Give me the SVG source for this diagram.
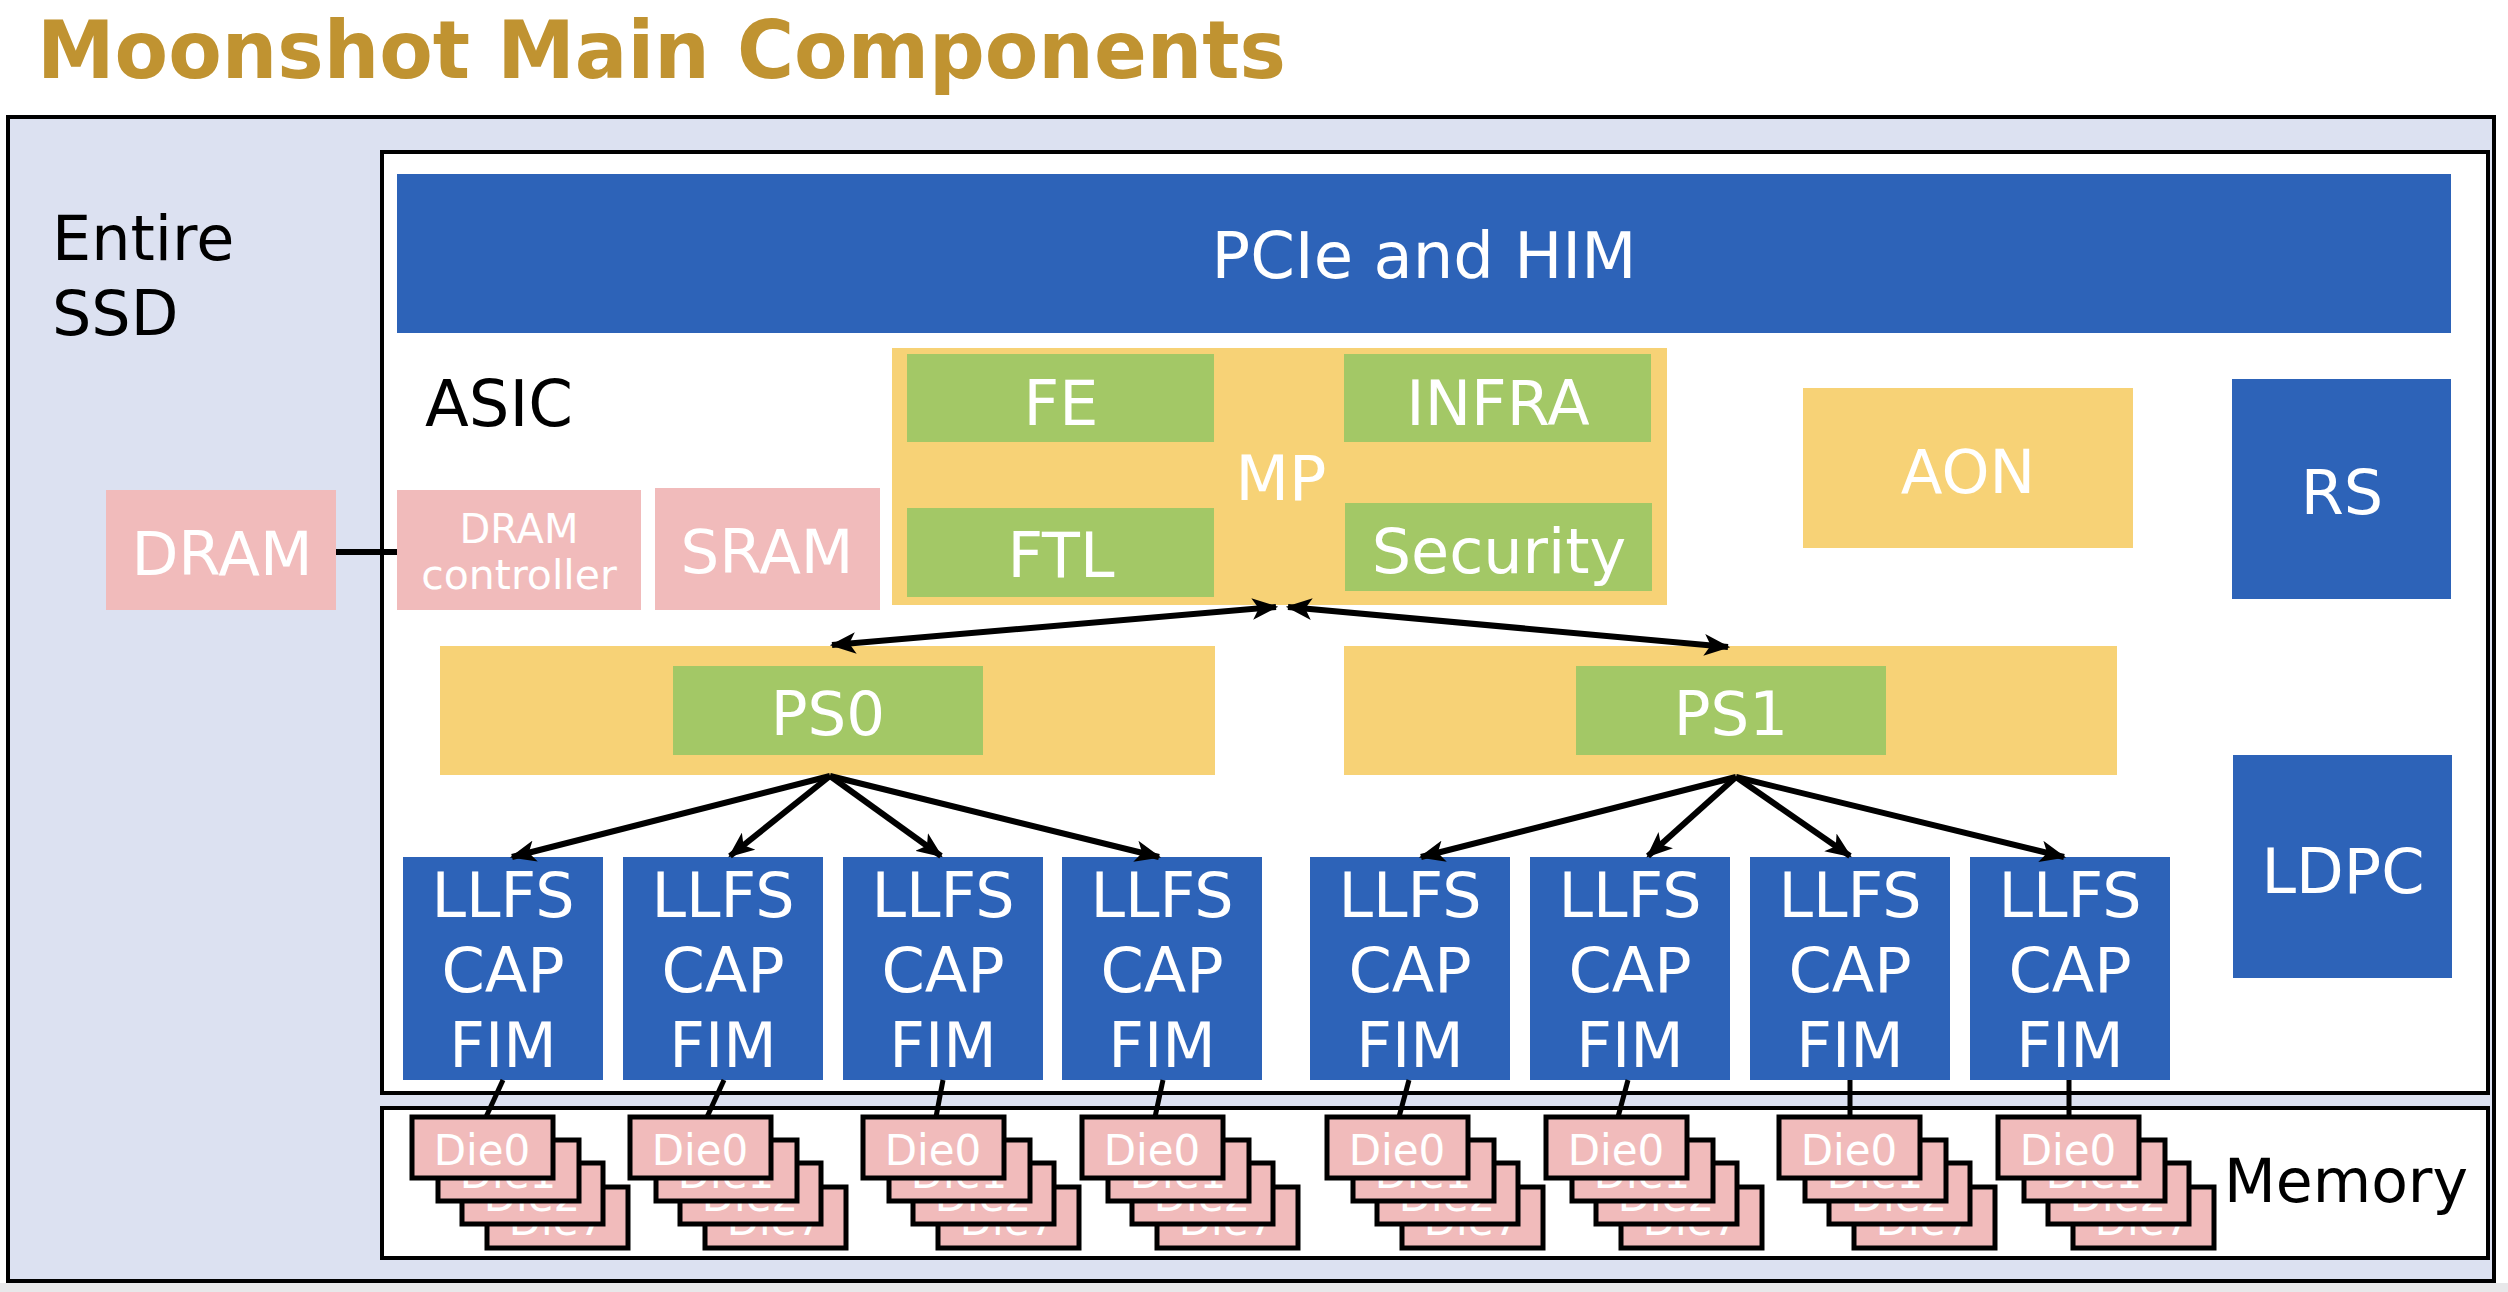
<svg xmlns="http://www.w3.org/2000/svg" width="2508" height="1292" viewBox="0 0 2508 1292">
<defs>
<style>
.t{font-family:"DejaVu Sans",Verdana,sans-serif;}
.w{fill:#ffffff;}
.k{fill:#000000;}
.blue{fill:#2D63B8;}
.yel{fill:#F7D276;}
.grn{fill:#A3C866;}
.pink{fill:#F1BBBB;}
.die{fill:#F1BBBB;stroke:#000;stroke-width:5;}
.frame{stroke:#000;stroke-width:4;}
.arr{stroke:#000;stroke-width:6;fill:none;}
.ln{stroke:#000;stroke-width:5;fill:none;}
</style>
<marker id="ah" viewBox="0 0 24 20" refX="22" refY="10" markerWidth="26" markerHeight="22" markerUnits="userSpaceOnUse" orient="auto-start-reverse">
<path d="M0,0 L24,10 L0,20 L6,10 Z" fill="#000"/>
</marker>
</defs>
<rect x="0" y="0" width="2508" height="1292" fill="#ffffff"/>
<rect x="0" y="1283" width="2508" height="9" fill="#E8E8EA"/>
<text class="t" x="37" y="78" font-size="80" font-weight="bold" fill="#C09331" textLength="1249" lengthAdjust="spacingAndGlyphs">Moonshot Main Components</text>

<g id="ssd">
<rect class="frame" x="8" y="117" width="2486" height="1164" fill="#DCE1F1"/>
<text class="t k" x="52" y="260" font-size="62">Entire</text>
<text class="t k" x="52" y="335" font-size="62">SSD</text>
</g>

<g id="asic">
<rect class="frame" x="382" y="152" width="2106" height="941" fill="#ffffff"/>
<text class="t k" x="425" y="426" font-size="64">ASIC</text>
</g>

<g id="memory">
<rect class="frame" x="382" y="1108" width="2106" height="150" fill="#ffffff"/>
<text class="t k" x="2224" y="1202" font-size="60">Memory</text>
</g>

<g id="pcie">
<rect class="blue" x="397" y="174" width="2054" height="159"/>
<text class="t w" x="1424" y="278" font-size="64" text-anchor="middle">PCIe and HIM</text>
</g>

<g id="dram">
<rect class="pink" x="106" y="490" width="230" height="120"/>
<text class="t w" x="222" y="575" font-size="61" text-anchor="middle">DRAM</text>
</g>
<g id="dram-controller">
<rect class="pink" x="397" y="490" width="244" height="120"/>
<text class="t w" x="519" y="543" font-size="40" text-anchor="middle">DRAM</text>
<text class="t w" x="519" y="589" font-size="41" text-anchor="middle">controller</text>
</g>
<g id="sram">
<rect class="pink" x="655" y="488" width="225" height="122"/>
<text class="t w" x="767" y="573" font-size="61" text-anchor="middle">SRAM</text>
</g>

<g id="mp">
<rect class="yel" x="892" y="348" width="775" height="257"/>
<text class="t w" x="1281" y="500" font-size="62" text-anchor="middle">MP</text>
</g>
<g id="fe">
<rect class="grn" x="907" y="354" width="307" height="88"/>
<text class="t w" x="1061" y="425" font-size="62" text-anchor="middle">FE</text>
</g>
<g id="infra">
<rect class="grn" x="1344" y="354" width="307" height="88"/>
<text class="t w" x="1498" y="425" font-size="62" text-anchor="middle">INFRA</text>
</g>
<g id="ftl">
<rect class="grn" x="907" y="508" width="307" height="89"/>
<text class="t w" x="1061" y="577" font-size="62" text-anchor="middle">FTL</text>
</g>
<g id="security">
<rect class="grn" x="1345" y="503" width="307" height="88"/>
<text class="t w" x="1499" y="573" font-size="62" text-anchor="middle">Security</text>
</g>

<g id="aon">
<rect class="yel" x="1803" y="388" width="330" height="160"/>
<text class="t w" x="1968" y="493" font-size="61" text-anchor="middle">AON</text>
</g>
<g id="rs">
<rect class="blue" x="2232" y="379" width="219" height="220"/>
<text class="t w" x="2342" y="514" font-size="62" text-anchor="middle">RS</text>
</g>
<g id="ldpc">
<rect class="blue" x="2233" y="755" width="219" height="223"/>
<text class="t w" x="2343" y="893" font-size="62" text-anchor="middle">LDPC</text>
</g>

<g id="ps0">
<rect class="yel" x="440" y="646" width="775" height="129"/>
<rect class="grn" x="673" y="666" width="310" height="89"/>
<text class="t w" x="828" y="735" font-size="61" text-anchor="middle">PS0</text>
</g>
<g id="ps1">
<rect class="yel" x="1344" y="646" width="773" height="129"/>
<rect class="grn" x="1576" y="666" width="310" height="89"/>
<text class="t w" x="1731" y="735" font-size="61" text-anchor="middle">PS1</text>
</g>

<g id="llfs0"><rect class="blue" x="403" y="857" width="200" height="223"/><text class="t w" font-size="62" text-anchor="middle"><tspan x="503" y="917">LLFS</tspan><tspan x="503" y="992">CAP</tspan><tspan x="503" y="1067">FIM</tspan></text></g>
<g id="llfs1"><rect class="blue" x="623" y="857" width="200" height="223"/><text class="t w" font-size="62" text-anchor="middle"><tspan x="723" y="917">LLFS</tspan><tspan x="723" y="992">CAP</tspan><tspan x="723" y="1067">FIM</tspan></text></g>
<g id="llfs2"><rect class="blue" x="843" y="857" width="200" height="223"/><text class="t w" font-size="62" text-anchor="middle"><tspan x="943" y="917">LLFS</tspan><tspan x="943" y="992">CAP</tspan><tspan x="943" y="1067">FIM</tspan></text></g>
<g id="llfs3"><rect class="blue" x="1062" y="857" width="200" height="223"/><text class="t w" font-size="62" text-anchor="middle"><tspan x="1162" y="917">LLFS</tspan><tspan x="1162" y="992">CAP</tspan><tspan x="1162" y="1067">FIM</tspan></text></g>
<g id="llfs4"><rect class="blue" x="1310" y="857" width="200" height="223"/><text class="t w" font-size="62" text-anchor="middle"><tspan x="1410" y="917">LLFS</tspan><tspan x="1410" y="992">CAP</tspan><tspan x="1410" y="1067">FIM</tspan></text></g>
<g id="llfs5"><rect class="blue" x="1530" y="857" width="200" height="223"/><text class="t w" font-size="62" text-anchor="middle"><tspan x="1630" y="917">LLFS</tspan><tspan x="1630" y="992">CAP</tspan><tspan x="1630" y="1067">FIM</tspan></text></g>
<g id="llfs6"><rect class="blue" x="1750" y="857" width="200" height="223"/><text class="t w" font-size="62" text-anchor="middle"><tspan x="1850" y="917">LLFS</tspan><tspan x="1850" y="992">CAP</tspan><tspan x="1850" y="1067">FIM</tspan></text></g>
<g id="llfs7"><rect class="blue" x="1970" y="857" width="200" height="223"/><text class="t w" font-size="62" text-anchor="middle"><tspan x="2070" y="917">LLFS</tspan><tspan x="2070" y="992">CAP</tspan><tspan x="2070" y="1067">FIM</tspan></text></g>

<g id="dies0" transform="translate(412,1117)">
<rect class="die" x="75" y="70" width="141" height="61"/><text class="t w" x="145" y="118" font-size="42" text-anchor="middle">Die7</text>
<rect class="die" x="50" y="46" width="141" height="61"/><text class="t w" x="120" y="94" font-size="42" text-anchor="middle">Die2</text>
<rect class="die" x="26" y="23" width="141" height="61"/><text class="t w" x="96" y="71" font-size="42" text-anchor="middle">Die1</text>
<rect class="die" x="0" y="0" width="141" height="61"/><text class="t w" x="70" y="48" font-size="42" text-anchor="middle">Die0</text>
</g>
<g id="dies1" transform="translate(630,1117)">
<rect class="die" x="75" y="70" width="141" height="61"/><text class="t w" x="145" y="118" font-size="42" text-anchor="middle">Die7</text>
<rect class="die" x="50" y="46" width="141" height="61"/><text class="t w" x="120" y="94" font-size="42" text-anchor="middle">Die2</text>
<rect class="die" x="26" y="23" width="141" height="61"/><text class="t w" x="96" y="71" font-size="42" text-anchor="middle">Die1</text>
<rect class="die" x="0" y="0" width="141" height="61"/><text class="t w" x="70" y="48" font-size="42" text-anchor="middle">Die0</text>
</g>
<g id="dies2" transform="translate(863,1117)">
<rect class="die" x="75" y="70" width="141" height="61"/><text class="t w" x="145" y="118" font-size="42" text-anchor="middle">Die7</text>
<rect class="die" x="50" y="46" width="141" height="61"/><text class="t w" x="120" y="94" font-size="42" text-anchor="middle">Die2</text>
<rect class="die" x="26" y="23" width="141" height="61"/><text class="t w" x="96" y="71" font-size="42" text-anchor="middle">Die1</text>
<rect class="die" x="0" y="0" width="141" height="61"/><text class="t w" x="70" y="48" font-size="42" text-anchor="middle">Die0</text>
</g>
<g id="dies3" transform="translate(1082,1117)">
<rect class="die" x="75" y="70" width="141" height="61"/><text class="t w" x="145" y="118" font-size="42" text-anchor="middle">Die7</text>
<rect class="die" x="50" y="46" width="141" height="61"/><text class="t w" x="120" y="94" font-size="42" text-anchor="middle">Die2</text>
<rect class="die" x="26" y="23" width="141" height="61"/><text class="t w" x="96" y="71" font-size="42" text-anchor="middle">Die1</text>
<rect class="die" x="0" y="0" width="141" height="61"/><text class="t w" x="70" y="48" font-size="42" text-anchor="middle">Die0</text>
</g>
<g id="dies4" transform="translate(1327,1117)">
<rect class="die" x="75" y="70" width="141" height="61"/><text class="t w" x="145" y="118" font-size="42" text-anchor="middle">Die7</text>
<rect class="die" x="50" y="46" width="141" height="61"/><text class="t w" x="120" y="94" font-size="42" text-anchor="middle">Die2</text>
<rect class="die" x="26" y="23" width="141" height="61"/><text class="t w" x="96" y="71" font-size="42" text-anchor="middle">Die1</text>
<rect class="die" x="0" y="0" width="141" height="61"/><text class="t w" x="70" y="48" font-size="42" text-anchor="middle">Die0</text>
</g>
<g id="dies5" transform="translate(1546,1117)">
<rect class="die" x="75" y="70" width="141" height="61"/><text class="t w" x="145" y="118" font-size="42" text-anchor="middle">Die7</text>
<rect class="die" x="50" y="46" width="141" height="61"/><text class="t w" x="120" y="94" font-size="42" text-anchor="middle">Die2</text>
<rect class="die" x="26" y="23" width="141" height="61"/><text class="t w" x="96" y="71" font-size="42" text-anchor="middle">Die1</text>
<rect class="die" x="0" y="0" width="141" height="61"/><text class="t w" x="70" y="48" font-size="42" text-anchor="middle">Die0</text>
</g>
<g id="dies6" transform="translate(1779,1117)">
<rect class="die" x="75" y="70" width="141" height="61"/><text class="t w" x="145" y="118" font-size="42" text-anchor="middle">Die7</text>
<rect class="die" x="50" y="46" width="141" height="61"/><text class="t w" x="120" y="94" font-size="42" text-anchor="middle">Die2</text>
<rect class="die" x="26" y="23" width="141" height="61"/><text class="t w" x="96" y="71" font-size="42" text-anchor="middle">Die1</text>
<rect class="die" x="0" y="0" width="141" height="61"/><text class="t w" x="70" y="48" font-size="42" text-anchor="middle">Die0</text>
</g>
<g id="dies7" transform="translate(1998,1117)">
<rect class="die" x="75" y="70" width="141" height="61"/><text class="t w" x="145" y="118" font-size="42" text-anchor="middle">Die7</text>
<rect class="die" x="50" y="46" width="141" height="61"/><text class="t w" x="120" y="94" font-size="42" text-anchor="middle">Die2</text>
<rect class="die" x="26" y="23" width="141" height="61"/><text class="t w" x="96" y="71" font-size="42" text-anchor="middle">Die1</text>
<rect class="die" x="0" y="0" width="141" height="61"/><text class="t w" x="70" y="48" font-size="42" text-anchor="middle">Die0</text>
</g>

<g id="connectors">
<line class="arr" x1="336" y1="552" x2="397" y2="552"/>
<line class="arr" x1="832" y1="645" x2="1276" y2="607" marker-start="url(#ah)" marker-end="url(#ah)"/>
<line class="arr" x1="1288" y1="607" x2="1728" y2="647" marker-start="url(#ah)" marker-end="url(#ah)"/>
<line class="arr" x1="830" y1="776" x2="512" y2="857" marker-end="url(#ah)"/>
<line class="arr" x1="830" y1="776" x2="730" y2="856" marker-end="url(#ah)"/>
<line class="arr" x1="830" y1="776" x2="941" y2="856" marker-end="url(#ah)"/>
<line class="arr" x1="830" y1="776" x2="1159" y2="857" marker-end="url(#ah)"/>
<line class="arr" x1="1736" y1="777" x2="1421" y2="857" marker-end="url(#ah)"/>
<line class="arr" x1="1736" y1="777" x2="1648" y2="856" marker-end="url(#ah)"/>
<line class="arr" x1="1736" y1="777" x2="1850" y2="856" marker-end="url(#ah)"/>
<line class="arr" x1="1736" y1="777" x2="2064" y2="857" marker-end="url(#ah)"/>
<line class="ln" x1="503" y1="1080" x2="486" y2="1117"/>
<line class="ln" x1="724" y1="1080" x2="707" y2="1117"/>
<line class="ln" x1="943" y1="1080" x2="936" y2="1117"/>
<line class="ln" x1="1163" y1="1080" x2="1155" y2="1117"/>
<line class="ln" x1="1409" y1="1080" x2="1399" y2="1117"/>
<line class="ln" x1="1628" y1="1080" x2="1618" y2="1117"/>
<line class="ln" x1="1850" y1="1080" x2="1850" y2="1117"/>
<line class="ln" x1="2069" y1="1080" x2="2069" y2="1117"/>
</g>
</svg>
